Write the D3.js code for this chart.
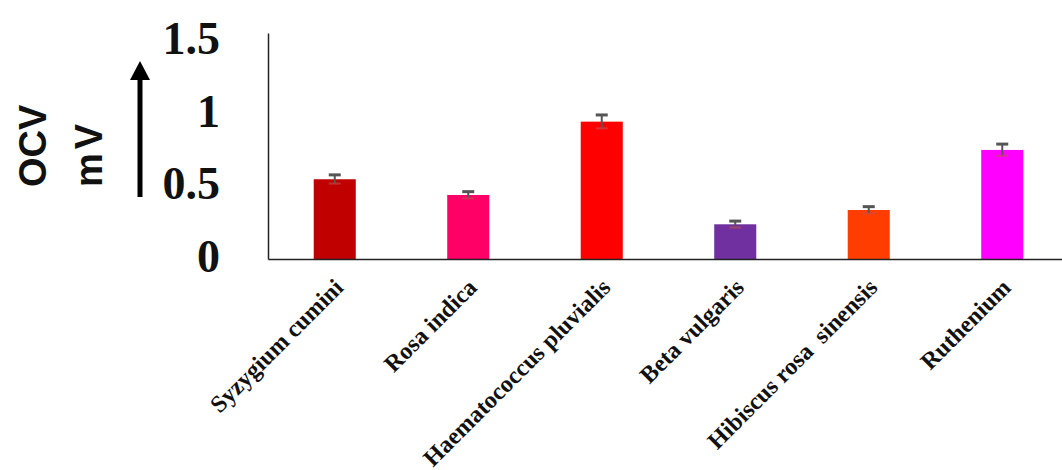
<!DOCTYPE html>
<html>
<head>
<meta charset="utf-8">
<script src="https://cdn.jsdelivr.net/npm/d3@7"></script>
<style>
  body { margin: 0; background: #fff; }
</style>
</head>
<body>
<div id="mainDiv"></div>
<script>
'use strict';

// data
var categories = ['Syzygium cumini', 'Rosa indica', 'Haematococcus pluvialis', 'Beta vulgaris', 'Hibiscus rosa  sinensis', 'Ruthenium'];
var ocvValues = [0.547, 0.439, 0.942, 0.238, 0.336, 0.748];
var ocvErrors = [0.03, 0.023, 0.046, 0.022, 0.023, 0.04];
var barColors = ['#C00000', '#FF0066', '#FF0000', '#7030A0', '#FF3D00', '#FF00FF'];
var yTicks = [0, 0.5, 1, 1.5];

var chart = {
    width: 1062,
    height: 470,
    left: 268,
    right: 1069,
    top: 33,
    bottom: 259
};

var svg = d3.select('#mainDiv').append('svg')
    .attr('width', chart.width)
    .attr('height', chart.height);

var x = d3.scaleBand()
    .domain(categories)
    .range([chart.left, chart.right])
    .paddingInner(0.685)
    .paddingOuter(0.3425);

var y = d3.scaleLinear()
    .domain([0, 1.55])
    .range([chart.bottom, chart.top]);

function mid(i) { return x(categories[i]) + x.bandwidth() / 2; }

// bars
svg.selectAll('rect.bar')
    .data(ocvValues)
    .enter()
    .append('rect')
        .attr('class', 'bar')
        .attr('x', function(d, i) { return x(categories[i]); })
        .attr('y', function(d) { return y(d); })
        .attr('width', x.bandwidth())
        .attr('height', function(d) { return y(0) - y(d); })
        .attr('fill', function(d, i) { return barColors[i]; });

// error bars
var err = svg.selectAll('g.err')
    .data(ocvValues)
    .enter()
    .append('g')
        .attr('class', 'err')
        .attr('stroke', '#555')
        .attr('stroke-width', 2);

err.append('line')
    .attr('x1', function(d, i) { return mid(i); })
    .attr('x2', function(d, i) { return mid(i); })
    .attr('y1', function(d, i) { return y(d + ocvErrors[i]); })
    .attr('y2', function(d, i) { return y(d - ocvErrors[i]); });

err.append('line')
    .attr('x1', function(d, i) { return mid(i) - 6; })
    .attr('x2', function(d, i) { return mid(i) + 6; })
    .attr('y1', function(d, i) { return y(d + ocvErrors[i]); })
    .attr('y2', function(d, i) { return y(d + ocvErrors[i]); })
    .attr('stroke-width', 3);

err.append('line')
    .attr('x1', function(d, i) { return mid(i) - 6; })
    .attr('x2', function(d, i) { return mid(i) + 6; })
    .attr('y1', function(d, i) { return y(d - ocvErrors[i]); })
    .attr('y2', function(d, i) { return y(d - ocvErrors[i]); })
    .attr('stroke', '#c05050')
    .attr('stroke-opacity', 0.6);

// axes
var xAxis = d3.axisBottom(x).tickSize(0).tickFormat('');
var xg = svg.append('g')
    .attr('transform', 'translate(0,' + chart.bottom + ')')
    .call(xAxis);
xg.select('.domain').attr('stroke', '#222').attr('stroke-width', 1.5);

var yAxis = d3.axisLeft(y).tickValues(yTicks).tickSize(0).tickPadding(48)
    .tickFormat(function(d) { return d; });
var yg = svg.append('g')
    .attr('transform', 'translate(' + chart.left + ',0)')
    .call(yAxis);
yg.select('.domain').attr('stroke', '#222').attr('stroke-width', 1.5);
yg.selectAll('.tick text')
    .attr('font-family', '"Liberation Serif", "Times New Roman", serif')
    .attr('font-weight', 'bold')
    .attr('font-size', '46px')
    .attr('fill', '#111')
    .attr('dy', '0.28em');

// category labels
xg.selectAll('.tick text').remove();
xg.selectAll('.tick')
    .append('text')
        .text(function(d) { return d; })
        .attr('text-anchor', 'end')
        .attr('transform', 'translate(10,30) rotate(-45)')
        .attr('font-family', '"Liberation Serif", "Times New Roman", serif')
        .attr('font-weight', 'bold')
        .attr('font-size', '24px')
        .attr('fill', '#111')
        .style('white-space', 'pre');

// axis title with arrow
svg.append('text')
    .text('OCV')
    .attr('transform', 'translate(46,187) rotate(-90)')
    .attr('text-anchor', 'start')
    .attr('font-family', '"Liberation Sans", Arial, sans-serif')
    .attr('font-weight', 'bold')
    .attr('font-size', '38px')
    .attr('fill', '#111');

svg.append('text')
    .text('mV')
    .attr('transform', 'translate(102,187) rotate(-90)')
    .attr('text-anchor', 'start')
    .attr('font-family', '"Liberation Sans", Arial, sans-serif')
    .attr('font-weight', 'bold')
    .attr('font-size', '38px')
    .attr('letter-spacing', '4px')
    .attr('fill', '#111');

svg.append('line')
    .attr('x1', 140).attr('x2', 140)
    .attr('y1', 197).attr('y2', 76)
    .attr('stroke', '#000')
    .attr('stroke-width', 5);

svg.append('path')
    .attr('d', 'M140,61 L150,80 L130,80 Z')
    .attr('fill', '#000');
</script>
</body>
</html>
